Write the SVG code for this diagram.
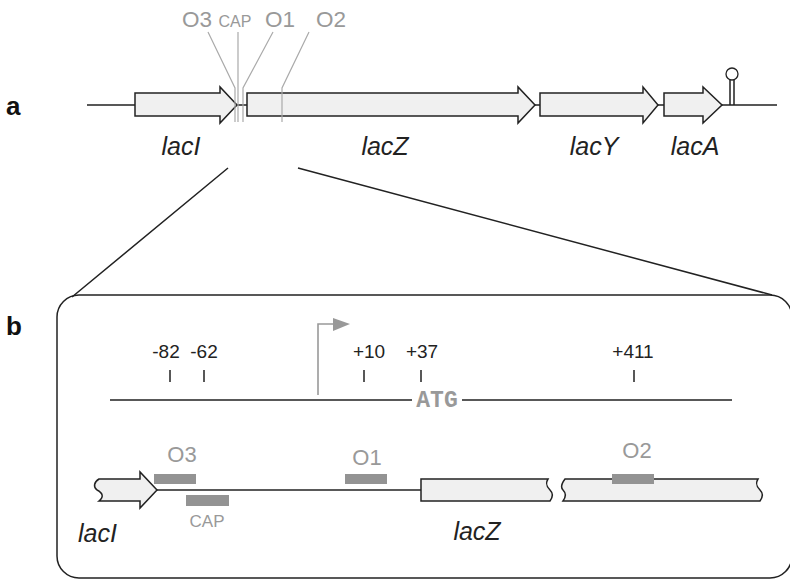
<svg xmlns="http://www.w3.org/2000/svg" width="790" height="580" viewBox="0 0 790 580">
<style>
.gene{fill:#f0f0f0;stroke:#222;stroke-width:1.5;stroke-linejoin:miter}
.dna{fill:none;stroke:#222;stroke-width:1.5}
.guide{fill:none;stroke:#aaa;stroke-width:1.2}
.site{fill:#939393}
.lbl{font-family:"Liberation Sans",Arial,sans-serif;fill:#222}
.ital{font-style:italic;font-size:25px}
.gray{fill:#999}
.num{font-size:19px}
.panel{font-family:"Liberation Sans",Arial,sans-serif;font-weight:bold;font-size:26px;fill:#111}
</style>
<rect width="790" height="580" fill="#fff"/>
<text class="panel" x="6" y="115">a</text>
<text class="panel" x="6" y="335">b</text>

<g id="connectors">
<path class="dna" d="M87 105H135M237 105H247M535 105H540M658 105H664M722 105H777"/>
<path class="dna" d="M228 168L72 297M298 168L772 295" stroke-width="1.3"/>
</g>

<g id="lacI-top"><polygon class="gene" points="135,93 220,93 220,87 237,105 220,123 220,116 135,116"/><text class="lbl ital" x="181" y="155" text-anchor="middle">lacI</text></g>
<g id="lacZ-top"><polygon class="gene" points="247,93 518,93 518,87 535,105 518,123 518,116 247,116"/><text class="lbl ital" x="385" y="155" text-anchor="middle">lacZ</text></g>
<g id="lacY-top"><polygon class="gene" points="540,93 643,93 643,87 658,105 643,123 643,116 540,116"/><text class="lbl ital" x="594" y="155" text-anchor="middle">lacY</text></g>
<g id="lacA-top"><polygon class="gene" points="664,93 703,93 703,87 722,105 703,123 703,116 664,116"/><text class="lbl ital" x="695" y="155" text-anchor="middle">lacA</text></g>
<g id="terminator"><path class="dna" d="M730 105V80M734 105V80" stroke-width="1.2"/><circle cx="732" cy="74" r="6" fill="#fff" stroke="#222" stroke-width="1.3"/></g>

<g id="sites-top">
<path class="guide" d="M208 32L235 88V122M238 32V122M273 32L243 88V122M309 32L282 88V122"/>
<text class="lbl gray" x="197" y="27" text-anchor="middle" font-size="22.5">O3</text>
<text class="lbl gray" x="235" y="27" text-anchor="middle" font-size="16">CAP</text>
<text class="lbl gray" x="280" y="27" text-anchor="middle" font-size="22.5">O1</text>
<text class="lbl gray" x="331" y="27" text-anchor="middle" font-size="22.5">O2</text>
</g>

<g id="panel-b">
<path class="dna" d="M79 295H770A22 22 0 0 1 792 317V556A22 22 0 0 1 770 578H79A22 22 0 0 1 57 556V317A22 22 0 0 1 79 295Z"/>
</g>

<g id="coordinates">
<path class="dna" d="M170 370V382M204 370V382M364 370V382M421 370V382M634 370V382"/>
<text class="lbl num" x="166" y="358" text-anchor="middle">-82</text>
<text class="lbl num" x="204" y="358" text-anchor="middle">-62</text>
<text class="lbl num" x="369" y="358" text-anchor="middle">+10</text>
<text class="lbl num" x="422" y="358" text-anchor="middle">+37</text>
<text class="lbl num" x="633" y="358" text-anchor="middle">+411</text>
<path class="dna" d="M110 400H412M462 400H732"/>
<text x="437" y="407" text-anchor="middle" font-family="'Liberation Mono','Courier New',monospace" font-weight="bold" font-size="23" fill="#999">ATG</text>
</g>

<g id="promoter">
<path d="M318 395V324H336" fill="none" stroke="#999" stroke-width="1.6"/>
<polygon points="333,318 350,324 333,331" fill="#999"/>
</g>

<g id="lacI-bottom">
<path class="gene" d="M99 479H140V472L157 490L140 508V501H99C104 497 103 493 97 490C93 487 94 482 99 479Z"/>
<text class="lbl ital" x="78" y="542" font-size="26">lacI</text>
</g>
<g id="spacer"><path class="dna" d="M157 490H421"/></g>
<g id="lacZ-bottom">
<path class="gene" d="M421 479H548C545 484 547 487 550 490C553 493 553 497 550 501H421Z"/>
<text class="lbl ital" x="477" y="540" text-anchor="middle" font-size="26">lacZ</text>
</g>
<g id="lacZ-distal">
<path class="gene" d="M565 479H758C755 484 757 487 760 490C763 493 763 497 760 501H563C566 497 566 493 563 490C560 487 562 483 565 479Z"/>
</g>

<g id="O3"><rect class="site" x="154" y="474" width="42" height="10"/><text class="lbl gray" x="182" y="462" text-anchor="middle" font-size="22">O3</text></g>
<g id="CAP"><rect class="site" x="186" y="495" width="43" height="11"/><text class="lbl gray" x="207" y="527" text-anchor="middle" font-size="17">CAP</text></g>
<g id="O1"><rect class="site" x="345" y="474" width="42" height="10"/><text class="lbl gray" x="367" y="465" text-anchor="middle" font-size="22">O1</text></g>
<g id="O2"><rect class="site" x="612" y="474" width="42" height="10"/><text class="lbl gray" x="637" y="458" text-anchor="middle" font-size="22">O2</text></g>
</svg>
